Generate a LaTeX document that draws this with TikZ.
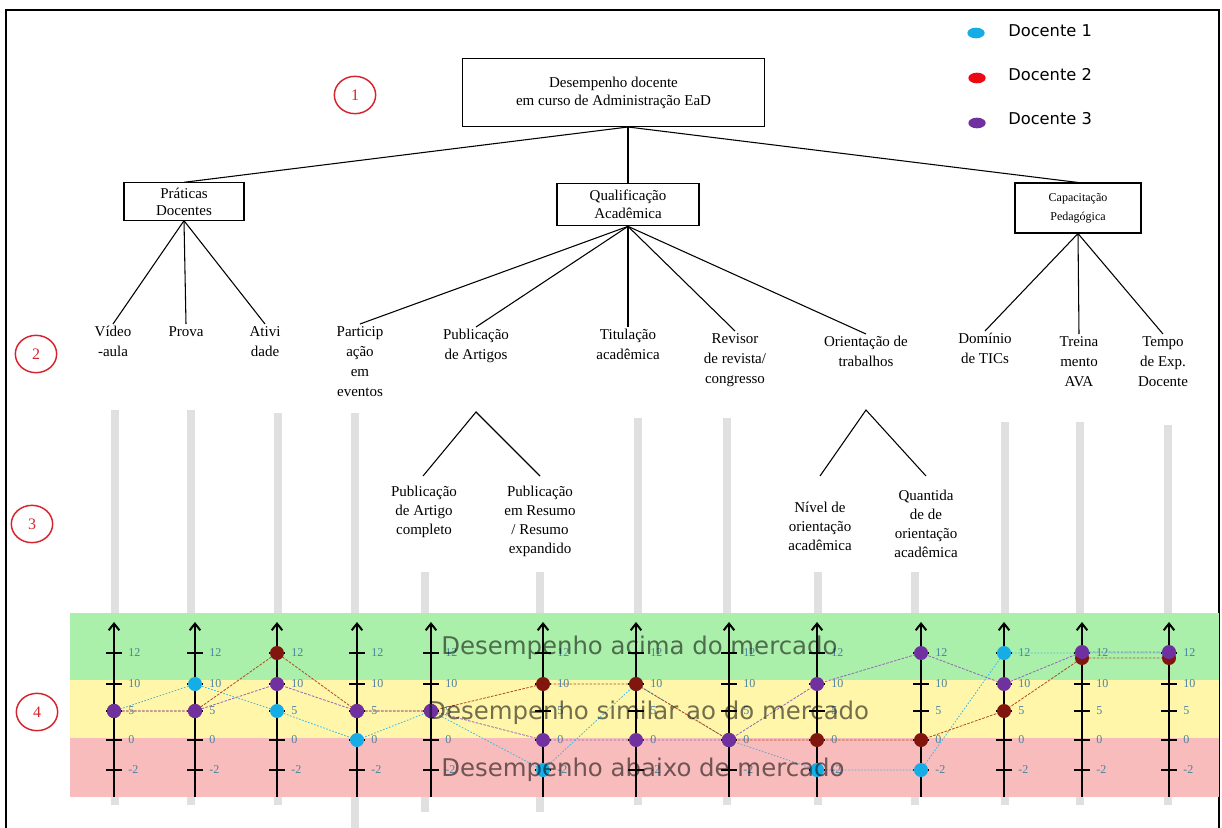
\documentclass[tikz,border=0pt]{standalone}
\usepackage{fontspec}
\setmainfont{Liberation Serif}
\newfontfamily\dvsans{DejaVu Sans}
\usepackage{tikz}
\usetikzlibrary{shapes.geometric,arrows.meta}

\definecolor{docA}{RGB}{22,172,230}
\definecolor{docB}{RGB}{128,22,14}
\definecolor{docBleg}{RGB}{235,10,20}
\definecolor{docC}{RGB}{112,48,160}
\definecolor{lineRed}{RGB}{175,75,30}
\definecolor{bandGreen}{RGB}{170,240,170}
\definecolor{bandYellow}{RGB}{255,246,170}
\definecolor{bandRed}{RGB}{248,188,188}
\definecolor{barGray}{RGB}{224,224,224}
\definecolor{tickTeal}{RGB}{75,130,160}
\definecolor{markRed}{RGB}{215,35,45}

\begin{document}
\begin{tikzpicture}[x=0.75pt,y=0.75pt,yscale=-1,xscale=1,
  box/.style={draw, line width=0.8pt, align=center, inner sep=0pt, font=\fontsize{11.25}{13.5}\selectfont},
  leaf/.style={anchor=north, align=center, inner sep=1.5pt, font=\fontsize{11.25}{15}\selectfont},
  subleaf/.style={leaf, font=\fontsize{11.25}{14.3}\selectfont},
  branch/.style={line width=0.8pt},
  numring/.style={ellipse, draw=markRed, text=markRed, line width=1.1pt, minimum width=31pt, minimum height=28pt, inner sep=0pt, font=\fontsize{12}{14}\selectfont},
  greybar/.style={draw=barGray, line width=6pt},
  scaleaxis/.style={line width=1.5pt, -{Straight Barb[length=5pt,width=8pt]}},
  ticklab/.style={anchor=west, inner sep=0pt, text=tickTeal, font=\fontsize{9}{10}\selectfont},
  bandtext/.style={anchor=west, inner sep=0pt, text=black, text opacity=0.55, font=\dvsans\fontsize{18.3}{22}\selectfont},
  legdot/.style={ellipse, minimum width=13pt, minimum height=8pt, inner sep=0pt},
  legtext/.style={anchor=west, inner sep=0pt, font=\dvsans\fontsize{12.2}{14}\selectfont},
  dotA/.style={circle, fill=docA, minimum size=10.5pt, inner sep=0pt},
  dotB/.style={circle, fill=docB, minimum size=10.5pt, inner sep=0pt},
  dotC/.style={circle, fill=docC, minimum size=10.5pt, inner sep=0pt},
  lineA/.style={draw=docA!85!white, line width=0.6pt, dash pattern=on 1.2pt off 1.2pt},
  lineB/.style={draw=lineRed, line width=0.6pt, dash pattern=on 2pt off 1pt},
  lineC/.style={draw=docC!75!white, line width=0.6pt, dash pattern=on 2pt off 1pt}]
\useasboundingbox (0,0) rectangle (1222,828);

%Frame
\draw[line width=1.8pt] (6,832) -- (6,10) -- (1219,10) -- (1219,832);

%Grey bars behind the scales
\foreach \bx/\bt/\bb in {115/410/805, 191/410/805, 278/413/805, 355/413/832, 425/572/812, 540/572/812, 638/418/805, 727/418/805, 818/572/805, 915/572/805, 1005/422/805, 1080/422/805, 1168/425/805} {
  \draw[greybar] (\bx,\bt) -- (\bx,\bb);
}

%Bands
\fill[bandGreen] (70,613) rectangle (1219,680);
\fill[bandYellow] (70,680) rectangle (1219,738);
\fill[bandRed] (70,738) rectangle (1219,797);

%Scales
\foreach \ax [count=\i] in {114,195,277,357,431,543,636,729,817,921,1004,1082,1169} {
  \coordinate (ax\i-b) at (\ax,797);
  \coordinate (ax\i-t) at (\ax,622);
  \draw[scaleaxis] (ax\i-b) -- (ax\i-t);
  \foreach \v/\ty [count=\j] in {12/653,10/684,5/711,0/740,-2/770} {
    \draw[line width=1.2pt] (\ax-8,\ty) -- (\ax+8,\ty);
    \node[ticklab] (t\i-\j) at (\ax+14,\ty) {\v};
  }
}

%Scores of Docente 1, 2, 3
\foreach \ax/\ya/\yb/\yc [count=\i] in {114/711/711/711, 195/684/711/711, 277/711/653/684, 357/740/711/711, 431/711/711/711, 543/770/684/740, 636/684/684/740, 729/740/740/740, 817/770/740/684, 921/770/740/653, 1004/653/711/684, 1082/653/658/652, 1169/653/658/652} {
  \coordinate (a\i) at (\ax,\ya);
  \coordinate (b\i) at (\ax,\yb);
  \coordinate (c\i) at (\ax,\yc);
}
\draw[lineA] (a1) \foreach \i in {2,...,13} { -- (a\i) };
\draw[lineB] (b1) \foreach \i in {2,...,13} { -- (b\i) };
\draw[lineC] (c1) \foreach \i in {2,...,13} { -- (c\i) };
\foreach \i in {1,...,13} { \node[dotA] (a\i-dot) at (a\i) {}; }
\foreach \i in {1,...,13} { \node[dotB] (b\i-dot) at (b\i) {}; }
\foreach \i in {1,...,13} { \node[dotC] (c\i-dot) at (c\i) {}; }

% Text Node
\node[bandtext] (above) at (441,648) {Desempenho acima do mercado};
\node[bandtext] (similar) at (427,713) {Desempenho similar ao do mercado};
\node[bandtext] (below) at (441,770) {Desempenho abaixo de mercado};

%Tree
\node[box, minimum width=227pt, minimum height=51pt] (perf) at (613.5,92.5) {Desempenho docente\\em curso de Administração EaD};
\node[box, minimum width=90pt, minimum height=28pt, font=\fontsize{11.25}{12.75}\selectfont] (prat) at (184,201.5) {Práticas\\Docentes};
\node[box, minimum width=106.5pt, minimum height=32pt] (qual) at (628,204.5) {Qualificação\\Acadêmica};
\node[box, minimum width=94.5pt, minimum height=37.5pt, font=\fontsize{9}{14}\selectfont] (capac) at (1078,208) {Capacitação\\Pedagógica};
\coordinate (perf-foot) at (628,127);
\draw[branch] (perf-foot) -- (prat.north);
\draw[branch] (perf-foot) -- (qual.north);
\draw[branch] (perf-foot) -- (capac.north);

\node[leaf] (video) at (113,324) {Vídeo\\-aula};
\node[leaf] (prova) at (186,324) {Prova};
\node[leaf] (ativ) at (265,324) {Ativi\\dade};
\node[leaf] (partic) at (360,324) {Particip\\ação\\em\\eventos};
\node[leaf] (pubart) at (476,327) {Publicação\\de Artigos};
\node[leaf] (titul) at (628,327) {Titulação\\acadêmica};
\node[leaf] (revis) at (735,331) {Revisor\\de revista/\\congresso};
\node[leaf] (orient) at (866,334) {Orientação de\\trabalhos};
\node[leaf] (domin) at (985,331) {Domínio\\de TICs};
\node[leaf] (trein) at (1079,334) {Treina\\mento\\AVA};
\node[leaf] (tempo) at (1163,334) {Tempo\\de Exp.\\Docente};

\draw[branch] (prat.south) -- (video.north);
\draw[branch] (prat.south) -- (prova.north);
\draw[branch] (prat.south) -- (ativ.north);
\draw[branch] (qual.south) -- (partic.north);
\draw[branch] (qual.south) -- (pubart.north);
\draw[branch] (qual.south) -- (titul.north);
\draw[branch] (qual.south) -- (revis.north);
\draw[branch] (qual.south) -- (orient.north);
\draw[branch] (capac.south) -- (domin.north);
\draw[branch] (capac.south) -- (trein.north);
\draw[branch] (capac.south) -- (tempo.north);

\node[subleaf] (pubcomp) at (424,484) {Publicação\\de Artigo\\completo};
\node[subleaf] (pubres) at (540,484) {Publicação\\em Resumo\\/ Resumo\\expandido};
\node[subleaf] (nivel) at (820,500) {Nível de\\orientação\\acadêmica};
\node[subleaf] (quant) at (926,488) {Quantida\\de de\\orientação\\acadêmica};
\coordinate (pub-fork) at (476,412);
\coordinate (ori-fork) at (866,410);
\coordinate (pubcomp-end) at (423,476);
\coordinate (pubres-end) at (540,476);
\coordinate (nivel-end) at (820,476);
\coordinate (quant-end) at (926,476);
\draw[branch] (pubcomp-end) -- (pub-fork) -- (pubres-end);
\draw[branch] (nivel-end) -- (ori-fork) -- (quant-end);

%Level marks
\node[numring] (ring1) at (355,95) {1};
\node[numring] (ring2) at (36,354) {2};
\node[numring] (ring3) at (32,524) {3};
\node[numring] (ring4) at (37,712) {4};

%Legend
\node[legdot, fill=docA] (leg1) at (976,33) {};
\node[legdot, fill=docBleg] (leg2) at (977,78) {};
\node[legdot, fill=docC] (leg3) at (977,123) {};
\node[legtext] (leg1-t) at (1008,31) {Docente 1};
\node[legtext] (leg2-t) at (1008,75) {Docente 2};
\node[legtext] (leg3-t) at (1008,119) {Docente 3};

\end{tikzpicture}
\end{document}
